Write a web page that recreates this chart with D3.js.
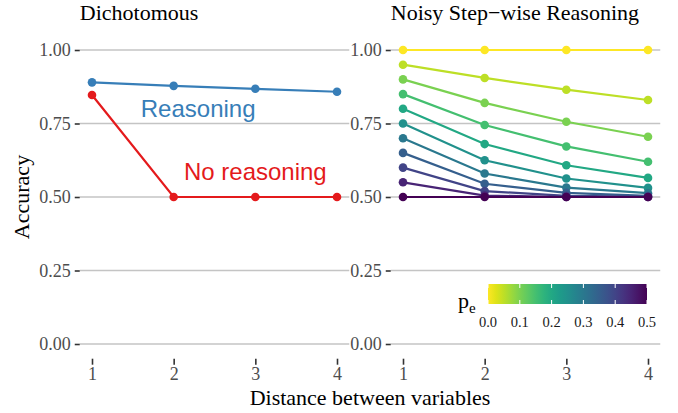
<!DOCTYPE html>
<html>
<head>
<meta charset="utf-8">
<script src="https://cdn.jsdelivr.net/npm/d3@7"></script>
<style>
  body { margin: 0; background: #fff; }
  svg text { font-family: "Liberation Serif", "DejaVu Serif", serif; }
  .title { fill: #000; font-size: 22px; }
  svg text.annot { font-family: "Liberation Sans", Arial, sans-serif; font-size: 24px; }
</style>
</head>
<body>
<div id="chart"></div>
<script>
var distances = [1, 2, 3, 4];
var yTicks = [0, 0.25, 0.5, 0.75, 1];

// Dichotomous panel
var reasoningAcc = [0.89, 0.878, 0.868, 0.858];
var noReasoningAcc = [0.847, 0.5, 0.5, 0.5];

// Noisy step-wise panel, one row per p_e
var peValues = [0, 0.05, 0.1, 0.15, 0.2, 0.25, 0.3, 0.35, 0.4, 0.45, 0.5];
var noisyAcc = [
  [1, 1, 1, 1],
  [0.95, 0.905, 0.865, 0.83],
  [0.9, 0.82, 0.756, 0.705],
  [0.85, 0.745, 0.672, 0.62],
  [0.8, 0.68, 0.608, 0.565],
  [0.75, 0.625, 0.563, 0.531],
  [0.7, 0.58, 0.532, 0.513],
  [0.65, 0.545, 0.514, 0.504],
  [0.6, 0.52, 0.504, 0.501],
  [0.55, 0.505, 0.5, 0.5],
  [0.5, 0.5, 0.5, 0.5]
];
var legendTicks = [0, 0.1, 0.2, 0.3, 0.4, 0.5];

var width = 678;
var height = 413;
var plotTop = 35.3;
var plotBottom = 358.7;

var svg = d3
  .select("#chart")
  .append("svg")
  .attr("width", width)
  .attr("height", height);

var y = d3.scaleLinear().domain([-0.05, 1.05]).range([plotBottom, plotTop]);
var peColor = function(p) {
  return d3.interpolateViridis(1 - p / 0.5);
};

var line = function(x) {
  return d3
    .line()
    .x(function(d, i) { return x(distances[i]); })
    .y(function(d) { return y(d); });
};

var drawPanel = function(left, right, title) {
  var x = d3.scaleLinear().domain([0.85, 4.15]).range([left, right]);
  var g = svg.append("g");

  g.selectAll("line.grid")
    .data(yTicks)
    .enter()
    .append("line")
    .attr("class", "grid")
    .attr("x1", left)
    .attr("x2", right)
    .attr("y1", function(d) { return y(d); })
    .attr("y2", function(d) { return y(d); })
    .attr("stroke", "#c4c4c4")
    .attr("stroke-width", 1.3);

  var yAxis = g
    .append("g")
    .attr("transform", "translate(" + left + ",0)")
    .call(d3.axisLeft(y).tickValues(yTicks).tickFormat(d3.format(".2f")).tickSize(5).tickPadding(4));
  var xAxis = g
    .append("g")
    .attr("transform", "translate(0," + plotBottom + ")")
    .call(d3.axisBottom(x).tickValues(distances).tickFormat(d3.format("d")).tickSize(6).tickPadding(3));
  [yAxis, xAxis].forEach(function(ax) {
    ax.select(".domain").remove();
    ax.selectAll(".tick line").attr("stroke", "#333").attr("stroke-width", 1.6);
    ax.selectAll(".tick text")
      .attr("fill", "#4d4d4d")
      .style("font-size", "18px")
      .style("font-family", "Liberation Serif, serif");
  });

  g.append("text")
    .attr("class", "title")
    .attr("x", left)
    .attr("y", 20)
    .text(title);

  return { g: g, x: x };
};

// left panel
var p1 = drawPanel(79.75, 349.25, "Dichotomous");
var series1 = [
  { values: reasoningAcc, color: "#377eb8" },
  { values: noReasoningAcc, color: "#e41a1c" }
];
series1.forEach(function(s) {
  p1.g.append("path")
    .datum(s.values)
    .attr("d", line(p1.x))
    .attr("fill", "none")
    .attr("stroke", s.color)
    .attr("stroke-width", 2.2);
  p1.g.selectAll(null)
    .data(s.values)
    .enter()
    .append("circle")
    .attr("cx", function(d, i) { return p1.x(distances[i]); })
    .attr("cy", function(d) { return y(d); })
    .attr("r", 4.3)
    .attr("fill", s.color);
});
p1.g.append("text")
  .attr("class", "annot")
  .attr("x", p1.x(2.3))
  .attr("y", y(0.8))
  .attr("dy", "0.35em")
  .attr("text-anchor", "middle")
  .attr("fill", "#377eb8")
  .text("Reasoning");
p1.g.append("text")
  .attr("class", "annot")
  .attr("x", p1.x(3))
  .attr("y", y(0.585))
  .attr("dy", "0.35em")
  .attr("text-anchor", "middle")
  .attr("fill", "#e41a1c")
  .text("No reasoning");

// right panel
var p2 = drawPanel(390.75, 660.25, "Noisy Step\u2212wise Reasoning");
noisyAcc.forEach(function(vals, k) {
  var c = peColor(peValues[k]);
  p2.g.append("path")
    .datum(vals)
    .attr("d", line(p2.x))
    .attr("fill", "none")
    .attr("stroke", c)
    .attr("stroke-width", 2.2);
  p2.g.selectAll(null)
    .data(vals)
    .enter()
    .append("circle")
    .attr("cx", function(d, i) { return p2.x(distances[i]); })
    .attr("cy", function(d) { return y(d); })
    .attr("r", 4.3)
    .attr("fill", c);
});

// axis titles
svg.append("text")
  .attr("class", "title")
  .attr("x", (79.75 + 660.25) / 2)
  .attr("y", 405)
  .attr("text-anchor", "middle")
  .text("Distance between variables");
svg.append("text")
  .attr("class", "title")
  .attr("transform", "translate(29," + (plotTop + plotBottom) / 2 + ") rotate(-90)")
  .attr("text-anchor", "middle")
  .text("Accuracy");

// colour bar legend
var legX = d3.scaleLinear().domain([0, 0.5]).range([488, 647]);
var legTop = 284;
var legH = 20;
var grad = svg.append("defs")
  .append("linearGradient")
  .attr("id", "pe-grad");
grad.selectAll("stop")
  .data(d3.range(0, 1.0001, 0.05))
  .enter()
  .append("stop")
  .attr("offset", function(d) { return d * 100 + "%"; })
  .attr("stop-color", function(d) { return peColor(d * 0.5); });
svg.append("rect")
  .attr("x", legX(0))
  .attr("y", legTop)
  .attr("width", legX(0.5) - legX(0))
  .attr("height", legH)
  .attr("fill", "url(#pe-grad)");
var legTick = svg.append("g")
  .selectAll("g")
  .data(legendTicks)
  .enter()
  .append("g");
legTick.append("line")
  .attr("x1", function(d) { return legX(d); })
  .attr("x2", function(d) { return legX(d); })
  .attr("y1", legTop)
  .attr("y2", legTop + 4)
  .attr("stroke", "#fff")
  .attr("stroke-width", 1);
legTick.append("line")
  .attr("x1", function(d) { return legX(d); })
  .attr("x2", function(d) { return legX(d); })
  .attr("y1", legTop + legH - 4)
  .attr("y2", legTop + legH)
  .attr("stroke", "#fff")
  .attr("stroke-width", 1);
legTick.append("text")
  .attr("x", function(d) { return legX(d); })
  .attr("y", 327)
  .attr("text-anchor", "middle")
  .style("font-size", "14.5px")
  .attr("fill", "#1a1a1a")
  .text(function(d) { return d3.format(".1f")(d); });
var peLabel = svg.append("text")
  .attr("x", 458)
  .attr("y", 308)
  .style("font-size", "22px")
  .attr("fill", "#000");
peLabel.append("tspan").text("p");
peLabel.append("tspan")
  .attr("dy", 5)
  .style("font-size", "15px")
  .text("e");
</script>
</body>
</html>
